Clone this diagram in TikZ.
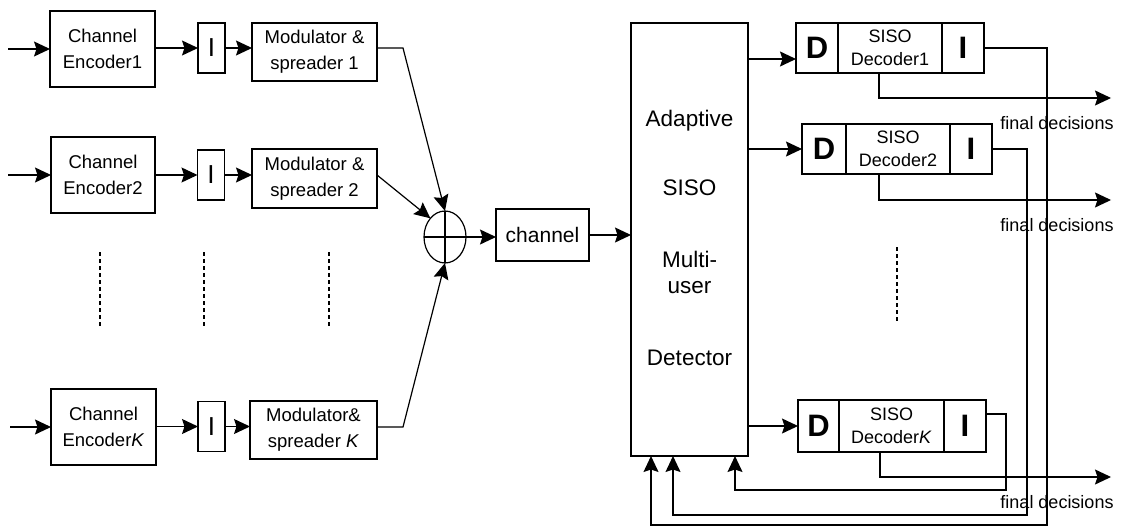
\documentclass[tikz,border=0pt]{standalone}
\usepackage{fontspec}
\setmainfont{Liberation Sans}
\usetikzlibrary{arrows.meta,shapes.geometric,calc}
\begin{document}
\begin{tikzpicture}[x=1pt,y=-1pt,
  every node/.style={inner sep=0pt,outer sep=0pt},
  box/.style={draw,line width=1.2pt,align=center},
  txt/.style={font=\fontsize{18.5}{26}\selectfont},
  dectxt/.style={font=\fontsize{18}{23}\selectfont},
  dettxt/.style={font=\fontsize{22.5}{26}\selectfont},
  bigletter/.style={font=\fontsize{31}{31}\selectfont\bfseries},
  intl/.style={box,font=\fontsize{26}{26}\selectfont,minimum width=27pt,minimum height=50pt},
  lbl/.style={font=\fontsize{18}{20}\selectfont},
  ln/.style={line width=1.2pt},
  arr/.style={line width=1.2pt,-{Stealth[length=16pt,width=15pt,inset=2.5pt]}},
  dots/.style={line width=1.3pt,dash pattern=on 4pt off 3pt}]
\useasboundingbox (0,0) rectangle (1123,527);

% ---------- transmitters ----------
\node[box,txt,minimum width=105pt,minimum height=76pt] (enc1) at (102.5,49) {Channel\\Encoder1};
\node[box,txt,minimum width=104pt,minimum height=76pt] (enc2) at (103,175) {Channel\\Encoder2};
\node[box,txt,minimum width=105pt,minimum height=76pt] (encK) at (103.5,427) {Channel\\Encoder\textit{K}};

\node[intl] (I1) at (211.5,48) {I};
\node[intl] (I2) at (211,175) {I};
\node[intl] (IK) at (211.5,426.5) {I};

\node[box,txt,minimum width=125pt,minimum height=58pt] (mod1) at (314.5,52) {Modulator \&\\spreader 1};
\node[box,txt,minimum width=125pt,minimum height=59pt] (mod2) at (314.5,178.5) {Modulator \&\\spreader 2};
\node[box,txt,minimum width=127pt,minimum height=58pt] (modK) at (313.5,430) {Modulator\&\\spreader \textit{K}};

\coordinate (s1) at (8,49);
\coordinate (s2) at (8,175);
\coordinate (sK) at (10,427);
\draw[arr] (s1) -- (s1 -| enc1.west);
\draw[arr] (s2) -- (s2 -| enc2.west);
\draw[arr] (sK) -- (sK -| encK.west);

\draw[arr] (enc1.east |- I1) -- (I1.west);
\draw[arr] (enc2.east |- I2) -- (I2.west);
\draw[arr] (encK.east |- IK) -- (IK.west);

\draw[arr] (I1.east) -- (I1.east -| mod1.west);
\draw[arr] (I2.east) -- (I2.east -| mod2.west);
\draw[arr] (IK.east) -- (IK.east -| modK.west);

% dotted continuation of the user rows
\draw[dots] (100,252) -- (100,327);
\draw[dots] (204,252) -- (204,327);
\draw[dots] (329,252) -- (329,327);

% ---------- summation and channel ----------
\node[draw,ln,ellipse,minimum width=42pt,minimum height=52pt] (sum) at (445,237) {};
\draw[ln] (sum.north) -- (sum.south) (sum.west) -- (sum.east);

\coordinate (k1) at (403,48);
\coordinate (kK) at (403,427);
\draw[arr] (mod1.east |- k1) -- (k1) -- (sum.north);
\draw[arr] (mod2.east |- I2) -- (sum.128);
\draw[arr] (modK.east |- kK) -- (kK) -- (sum.south);

\node[box,font=\fontsize{21}{24}\selectfont,minimum width=93pt,minimum height=52pt] (chan) at (542.5,235) {channel};
\draw[arr] (sum.east) -- (sum.east -| chan.west);

% ---------- multiuser detector ----------
\node[box,minimum width=117pt,minimum height=433pt] (det) at (689.5,239.5) {};
\node[dettxt] (t1) at (689.5,121) {Adaptive};
\node[dettxt] (t2) at (689.5,188) {SISO};
\node[dettxt] (t3) at (689.5,259) {Multi-};
\node[dettxt] (t4) at (689.5,288) {user};
\node[dettxt] (t5) at (689.5,358) {Detector};
\draw[arr] (chan.east) -- (chan.east -| det.west);

% ---------- SISO decoders ----------
\node[box,bigletter,minimum width=42pt,minimum height=50pt] (D1) at (817,48) {D};
\node[box,dectxt,minimum width=104pt,minimum height=50pt] (S1) at (890,48) {SISO\\Decoder1};
\node[box,bigletter,minimum width=42pt,minimum height=50pt] (J1) at (963,48) {I};

\node[box,bigletter,minimum width=44pt,minimum height=50pt] (D2) at (824,149) {D};
\node[box,dectxt,minimum width=104pt,minimum height=50pt] (S2) at (898,149) {SISO\\Decoder2};
\node[box,bigletter,minimum width=42pt,minimum height=50pt] (J2) at (971,149) {I};

\node[box,bigletter,minimum width=41pt,minimum height=52pt] (DK) at (818.5,426) {D};
\node[box,dectxt,minimum width=105pt,minimum height=52pt] (SK) at (891.5,426) {SISO\\Decoder\textit{K}};
\node[box,bigletter,minimum width=42pt,minimum height=52pt] (JK) at (965,426) {I};

\coordinate (a1) at (0,59);
\draw[arr] (det.east |- a1) -- (D1.west |- a1);
\draw[arr] (det.east |- D2) -- (D2.west);
\draw[arr] (det.east |- DK) -- (DK.west);

\draw[dots] (897,247) -- (897,322);

% final decisions
\coordinate (e1) at (1111,98);
\coordinate (e2) at (1111,200);
\coordinate (eK) at (1111,477);
\draw[arr] ($(S1.south west)+(41,0)$) |- (e1);
\draw[arr] ($(S2.south west)+(33,0)$) |- (e2);
\draw[arr] ($(SK.south west)+(41,0)$) |- (eK);
\node[lbl] (L1) at (1057,123) {final decisions};
\node[lbl] (L2) at (1057,225) {final decisions};
\node[lbl] (LK) at (1057,502) {final decisions};

% feedback to the detector
\coordinate (v1) at (1047,525);
\coordinate (v2) at (1027,515);
\coordinate (vK) at (1006,490);
\coordinate (u1) at (651,0);
\coordinate (u2) at (673,0);
\coordinate (uK) at (735,0);
\draw[arr] (J1.east) -| (v1) -| (u1 |- det.south);
\draw[arr] (J2.east) -| (v2) -| (u2 |- det.south);
\draw[arr] ($(JK.north east)+(0,14)$) -| (vK) -| (uK |- det.south);
\end{tikzpicture}
\end{document}
